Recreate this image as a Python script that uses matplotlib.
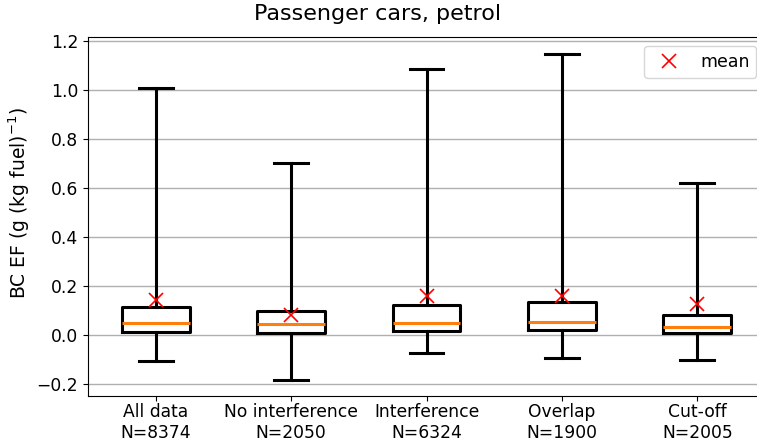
import matplotlib
matplotlib.use("Agg")
import matplotlib.pyplot as plt

categories = ["All data", "No interference", "Interference", "Overlap", "Cut-off"]
counts = [8374, 2050, 6324, 1900, 2005]
whisker_low = [-0.107, -0.185, -0.075, -0.095, -0.103]
q1 = [0.013, 0.007, 0.015, 0.018, 0.007]
median = [0.048, 0.045, 0.049, 0.054, 0.033]
q3 = [0.114, 0.097, 0.122, 0.133, 0.082]
whisker_high = [1.006, 0.700, 1.084, 1.146, 0.621]
means = [0.140, 0.080, 0.158, 0.159, 0.124]

fig = plt.figure(figsize=(7.57, 4.40), dpi=100)
ax = fig.add_axes([0.1163, 0.0989, 0.8943, 0.817])

stats = []
for i in range(len(categories)):
    stats.append(dict(whislo=whisker_low[i], q1=q1[i], med=median[i],
                      q3=q3[i], whishi=whisker_high[i], fliers=[]))

lw = 2.2
ax.bxp(stats, showfliers=False,
       boxprops=dict(color="black", linewidth=lw),
       whiskerprops=dict(color="black", linewidth=lw),
       capprops=dict(color="black", linewidth=lw),
       medianprops=dict(color="#ff7f0e", linewidth=lw))

positions = list(range(1, len(categories) + 1))
ax.plot(positions, means, linestyle="none", marker="x", color="red",
        markersize=10.5, markeredgewidth=1.2, label="mean", zorder=5)

ax.set_xticks(positions)
ax.set_xticklabels([f"{c}\nN={n}" for c, n in zip(categories, counts)], fontsize=12.3)
ax.tick_params(axis="x", pad=1.5)
ax.tick_params(axis="y", labelsize=12.3)
ax.set_xlim(0.5, 5.5)
ax.set_ylim(-0.252, 1.216)
ax.set_yticks([-0.2, 0.0, 0.2, 0.4, 0.6, 0.8, 1.0, 1.2])
ax.yaxis.grid(True, color="#b0b0b0", linewidth=1)
ax.set_axisbelow(True)
ax.set_ylabel("BC EF (g (kg fuel)$^{-1}$)", fontsize=13.5)
ax.yaxis.set_label_coords(-0.0827, 0.538)
fig.text(0.4985, 1 - 14 / 440, "Passenger cars, petrol", fontsize=16,
         ha="center", va="center")
ax.legend(loc="upper right", fontsize=12.5)

fig.savefig("out.png", dpi=100, facecolor="white")
